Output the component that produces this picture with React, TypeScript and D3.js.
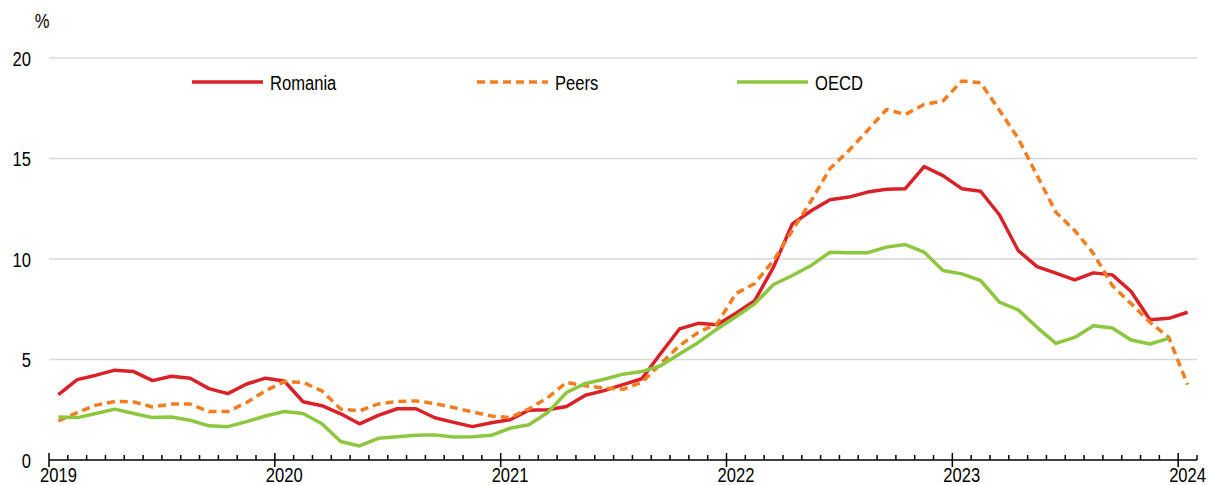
import React from "react";
import * as d3 from "d3";

const years = ["2019", "2020", "2021", "2022", "2023", "2024"];
const yTicks = [0, 5, 10, 15, 20];

const romania = [
  3.25, 4.0, 4.22, 4.47, 4.4, 3.95, 4.17, 4.07, 3.55, 3.3, 3.78, 4.07,
  3.93, 2.9, 2.7, 2.3, 1.8, 2.22, 2.55, 2.55, 2.1, 1.87, 1.66, 1.85,
  2.0, 2.48, 2.5, 2.66, 3.22, 3.45, 3.75, 4.04, 5.3, 6.52, 6.8, 6.73,
  7.3, 7.93, 9.6, 11.75, 12.4, 12.95, 13.08, 13.33, 13.47, 13.5, 14.6, 14.15,
  13.5, 13.37, 12.2, 10.42, 9.62, 9.3, 8.96, 9.31, 9.21, 8.38, 6.98, 7.05,
  7.35,
];

const peers = [
  1.94, 2.36, 2.73, 2.91, 2.89, 2.64, 2.78, 2.78, 2.41, 2.41, 2.86, 3.44,
  3.9, 3.86, 3.44, 2.54, 2.44, 2.79, 2.91, 2.94, 2.81, 2.61, 2.39, 2.19,
  2.11, 2.54, 3.1, 3.86, 3.69, 3.58, 3.52, 3.86, 4.78, 5.69, 6.35, 6.78,
  8.28, 8.78, 9.93, 11.42, 12.9, 14.5, 15.4, 16.4, 17.44, 17.19, 17.69, 17.86,
  18.85, 18.77, 17.4, 16.0, 14.16, 12.33, 11.42, 10.27, 8.68, 7.78, 6.85, 6.1,
  3.75,
];

const oecd = [
  2.14, 2.11, 2.31, 2.53, 2.31, 2.11, 2.14, 1.98, 1.7, 1.66, 1.91, 2.19,
  2.41, 2.31, 1.8, 0.92, 0.7, 1.08, 1.16, 1.23, 1.25, 1.15, 1.16, 1.23,
  1.58, 1.75, 2.36, 3.36, 3.81, 4.02, 4.27, 4.4, 4.69, 5.27, 5.85, 6.52,
  7.13, 7.77, 8.73, 9.18, 9.68, 10.34, 10.31, 10.31, 10.59, 10.72, 10.34, 9.43,
  9.26, 8.93, 7.85, 7.47, 6.6, 5.8, 6.1, 6.68, 6.57, 5.97, 5.77, 6.05,
];

const seriesNames = ["Romania", "Peers", "OECD"];

const RED = "#DA2128";
const ORANGE = "#F47D20";
const GREEN = "#8DC63F";
const FONT = "'Liberation Sans', Arial, sans-serif";
const SX = 0.79;
const FS = 21;

function T({
  x,
  y,
  anchor = "start",
  children,
}: {
  x: number;
  y: number;
  anchor?: "start" | "middle" | "end";
  children: React.ReactNode;
}) {
  return (
    <g transform={`translate(${x},${y}) scale(${SX},1)`}>
      <text x={0} y={0} textAnchor={anchor} fontSize={FS} fill="#000">
        {children}
      </text>
    </g>
  );
}

export default function App() {
  const W = 1208;
  const H = 485;
  const totalMonths = 61;
  const x = d3.scaleLinear().domain([0, totalMonths]).range([49, 1197]);
  const y = d3.scaleLinear().domain([0, 20]).range([460, 58]);

  const line = d3
    .line<number>()
    .x((_, i) => x(i + 0.5))
    .y((d) => y(d));

  const series = [
    { name: seriesNames[0], data: romania, color: RED, dash: undefined as string | undefined },
    { name: seriesNames[1], data: peers, color: ORANGE, dash: "8 5" },
    { name: seriesNames[2], data: oecd, color: GREEN, dash: undefined },
  ];

  const legendPos = [192, 477, 737];
  const monthTicks = d3.range(0, totalMonths + 1);

  return (
    <svg
      width={W}
      height={H}
      style={{ position: "absolute", left: 0, top: 0, background: "#fff" }}
      fontFamily={FONT}
    >
      {yTicks.filter((t) => t > 0).map((t) => (
        <line key={t} x1={49} x2={1197} y1={y(t)} y2={y(t)} stroke="#d9d9d9" strokeWidth={1.5} />
      ))}
      {yTicks.map((t) => (
        <T key={t} x={31} y={y(t) + 7.5} anchor="end">
          {t}
        </T>
      ))}
      <T x={42} y={28} anchor="middle">%</T>

      {series.map((s) => (
        <path
          key={s.name}
          d={line(s.data) || ""}
          fill="none"
          stroke={s.color}
          strokeWidth={3.5}
          strokeDasharray={s.dash}
          strokeLinejoin="round"
        />
      ))}

      <line x1={49} x2={1197} y1={460} y2={460} stroke="#000" strokeWidth={1.5} />
      {monthTicks.map((m) => (
        <line
          key={m}
          x1={x(m)}
          x2={x(m)}
          y1={m % 12 === 0 ? 453 : 455}
          y2={m % 12 === 0 ? 467 : 460}
          stroke="#000"
          strokeWidth={1.5}
        />
      ))}
      {years.map((yr, i) => (
        <T key={yr} x={x(i * 12 + 0.5)} y={482} anchor="middle">
          {yr}
        </T>
      ))}

      {series.map((s, i) => (
        <g key={s.name}>
          <line
            x1={legendPos[i]}
            x2={legendPos[i] + 71}
            y1={82}
            y2={82}
            stroke={s.color}
            strokeWidth={3.5}
            strokeDasharray={s.dash}
          />
          <T x={legendPos[i] + 78} y={89.5}>
            {s.name}
          </T>
        </g>
      ))}
    </svg>
  );
}
